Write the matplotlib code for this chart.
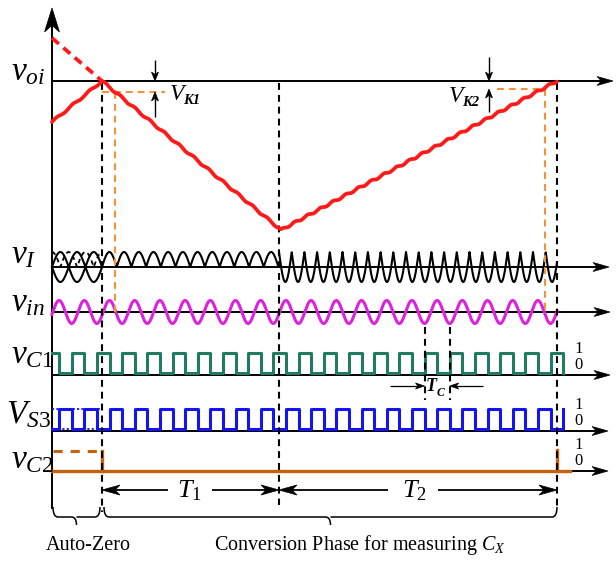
import numpy as np
import matplotlib
matplotlib.use("Agg")
import matplotlib.pyplot as plt
from matplotlib.patches import Polygon, PathPatch
from matplotlib.path import Path

plt.rcParams['font.family'] = ['Liberation Serif', 'DejaVu Serif']
plt.rcParams['mathtext.fontset'] = 'custom'
plt.rcParams['mathtext.rm'] = 'Liberation Serif'
plt.rcParams['mathtext.it'] = 'Liberation Serif:italic'
plt.rcParams['mathtext.bf'] = 'Liberation Serif:bold'

# ---------------- data ----------------
# time marks on the common time axis
t_start = 52
t_autozero_end = 102
t_T1_end = 279
t_T2_end = 557
t_axis_end = 610

# v_oi (integrator output): ramp breakpoints
voi_times = [52, 102, 281, 557]
voi_values = [-41, 0, -149, 0]
voi_dashed_times = [52, 102]
voi_dashed_values = [43, 0]
voi_ripple = 1.0
V_K1 = 11
V_K2 = 8
t_K1 = 115
t_K2 = 545

# v_I (rectified signal)
vI_amp = 15
vI_half_az = 16.7
vI_half_T1 = 14.7
vI_half_T2 = 12.7

# v_in and clocks
vin_amp = 11.5
clock_period = 25.2
clock_ref_edge = 550.5
clock_end = 563.1
Tc_edges = [424.5, 449.7]
logic_high = 22
logic_low = 2

# ---------------- layout ----------------
x_axis = 52
y_voi, y_vI, y_vin, y_vC1, y_VS3, y_vC2 = 81, 267, 312, 375, 431, 471

RED = '#ff1a1a'
ORANGE = '#f39237'
BROWN = '#c4620e'
MAGENTA = '#dd22dd'
GREEN = '#217a62'
BLUE = '#1414f0'

fig = plt.figure(figsize=(6.16, 5.62), dpi=100)
ax = fig.add_axes([0, 0, 1, 1])
ax.set_xlim(0, 616)
ax.set_ylim(562, 0)
ax.axis('off')


def head(xt, yt, dx, dy, length, half, color='k', z=6):
    # stealth-like arrowhead; (dx, dy) unit direction of the arrow
    px, py = -dy, dx
    bx, by = xt - dx * length, yt - dy * length
    nx, ny = xt - dx * length * 0.72, yt - dy * length * 0.72
    pts = [(xt, yt), (bx + px * half, by + py * half), (nx, ny),
           (bx - px * half, by - py * half)]
    ax.add_patch(Polygon(pts, closed=True, facecolor=color, edgecolor=color,
                         lw=0.5, zorder=z))


def arrow(x0, y0, x1, y1, length, half, lw=1.3, color='k', z=6):
    d = np.hypot(x1 - x0, y1 - y0)
    dx, dy = (x1 - x0) / d, (y1 - y0) / d
    ax.plot([x0, x1 - dx * length * 0.7], [y0, y1 - dy * length * 0.7],
            color=color, lw=lw, zorder=z, solid_capstyle='butt')
    head(x1, y1, dx, dy, length, half, color, z)


def brace(x0, x1, ytop, ymid, ytip, r=5):
    xc = (x0 + x1) / 2
    verts = [(x0, ytop), (x0, ymid), (x0 + r, ymid), (xc - r, ymid),
             (xc, ymid), (xc, ytip),
             (xc, ymid), (xc + r, ymid), (x1 - r, ymid), (x1, ymid), (x1, ytop)]
    codes = [Path.MOVETO, Path.CURVE3, Path.CURVE3, Path.LINETO,
             Path.CURVE3, Path.CURVE3,
             Path.MOVETO, Path.CURVE3, Path.LINETO, Path.CURVE3, Path.CURVE3]
    ax.add_patch(PathPatch(Path(verts, codes), facecolor='none',
                           edgecolor='k', lw=1.1, zorder=5))


def square(t0, t1, base, invert=False):
    def state(t):
        s = ((t - clock_ref_edge) / clock_period) % 1.0 < 0.5
        return (not s) if invert else s

    def lev(s):
        return base - (logic_high if s else logic_low)

    k0 = int(np.floor((t0 - clock_ref_edge) / clock_period)) - 1
    k1 = int(np.ceil((t1 - clock_ref_edge) / clock_period)) + 1
    edges = []
    for k in range(k0, k1 + 1):
        for f in (0.0, 0.5):
            e = clock_ref_edge + (k + f) * clock_period
            if t0 < e <= t1 + 0.2:
                edges.append(e)
    edges.sort()
    xs, ys = [t0], [lev(state(t0 + 1e-6))]
    for e in edges:
        xs += [e, e]
        ys += [lev(state(e - 1e-3)), lev(state(e + 1e-3))]
    if xs[-1] < t1:
        xs.append(t1)
        ys.append(ys[-1])
    return np.array(xs), np.array(ys)


# ---------------- axes ----------------
ax.plot([x_axis, x_axis], [508, 25], color='k', lw=1.4, zorder=2)
head(x_axis, 8, 0, -1, 24, 7.5)
for yb, xe in [(y_voi, 613), (y_vI, 609), (y_vin, 610), (y_vC1, 610),
               (y_VS3, 608), (y_vC2, 608)]:
    arrow(x_axis, yb, xe, yb, 16, 4.5, lw=1.4, z=2)

# ---------------- dashed guide lines ----------------
dash_k = dict(color='k', lw=1.5, ls=(0, (3.3, 2.4)), zorder=4)
ax.plot([t_autozero_end, t_autozero_end], [83, 512], **dash_k)
ax.plot([t_T1_end, t_T1_end], [83, 505], **dash_k)
ax.plot([t_T2_end, t_T2_end], [83, 510], **dash_k)
for e in Tc_edges:
    ax.plot([e, e], [327, 400], **dash_k)

dash_o = dict(color=ORANGE, lw=1.5, ls=(0, (3.3, 2.4)), zorder=4)
ax.plot([t_autozero_end, 165], [y_voi + V_K1, y_voi + V_K1], **dash_o)
ax.plot([t_K1, t_K1], [y_voi + V_K1, y_vin], **dash_o)
ax.plot([497, t_K2], [y_voi + V_K2, y_voi + V_K2], **dash_o)
ax.plot([t_K2, t_K2], [y_voi + V_K2, y_vin], **dash_o)

# ---------------- v_oi ----------------
t = np.linspace(t_start, t_T2_end, 3000)
ramp = np.interp(t, voi_times, voi_values)
half = np.where(t < t_autozero_end, vI_half_az,
                np.where(t < t_T1_end, vI_half_T1, vI_half_T2))
seg0 = np.where(t < t_autozero_end, t_start,
                np.where(t < t_T1_end, t_autozero_end, t_T1_end))
ripple = voi_ripple * np.sin(2 * np.pi * (t - seg0) / half)
voi = ramp + ripple
ax.plot(t, y_voi - voi, color=RED, lw=2.7, zorder=7, solid_capstyle='round')
ax.plot(voi_dashed_times, [y_voi - v for v in voi_dashed_values], color=RED,
        lw=2.7, ls=(0, (2.4, 1.6)), zorder=7)

# V_K arrows and labels
arrow(155, 60, 155, y_voi, 9, 3.5, lw=1.0)
arrow(155, 117, 155, y_voi + V_K1, 9, 3.5, lw=1.0)
arrow(489, 57, 489, y_voi, 9, 3.5, lw=1.0)
arrow(489, 112, 489, y_voi + V_K2, 9, 3.5, lw=1.0)
ax.text(170, 100, 'V', fontsize=17, style='italic', va='baseline', ha='left')
ax.text(183, 104, 'K1', fontsize=10.5, style='italic', weight='bold',
        va='baseline', ha='left')
ax.text(449, 102, 'V', fontsize=17, style='italic', va='baseline', ha='left')
ax.text(462, 106, 'K2', fontsize=10.5, style='italic', weight='bold',
        va='baseline', ha='left')

# ---------------- v_I ----------------
ta = np.linspace(t_start, t_autozero_end, 400)
ra = np.abs(np.sin(np.pi * (ta - t_start) / vI_half_az))
ax.plot(ta, y_vI - vI_amp * ra, color='k', lw=1.5, zorder=3)
ax.plot(ta, y_vI + vI_amp * ra, color='k', lw=1.5, zorder=3)
rd = np.abs(np.sin(np.pi * (ta - t_start - vI_half_az / 2) / vI_half_az))
ax.plot(ta, y_vI - vI_amp * rd, color='k', lw=1.3, ls=(0, (2.5, 2)), zorder=3)
t1 = np.linspace(t_autozero_end, t_T1_end, 1200)
ax.plot(t1, y_vI - vI_amp * np.abs(np.sin(np.pi * (t1 - t_autozero_end) / vI_half_T1)),
        color='k', lw=1.5, zorder=3)
t2 = np.linspace(t_T1_end, t_T2_end, 2400)
ax.plot(t2, y_vI - vI_amp * (1 - 2 * np.abs(np.sin(np.pi * (t2 - t_T1_end) / vI_half_T2))),
        color='k', lw=1.5, zorder=3)

# ---------------- v_in ----------------
tv = np.linspace(t_start, t_T2_end, 2000)
ax.plot(tv, y_vin + vin_amp * np.cos(2 * np.pi * (tv - clock_ref_edge) / clock_period),
        color=MAGENTA, lw=2.2, zorder=3)

# ---------------- v_C1 / V_S3 ----------------
xs, ys = square(t_start, clock_end, y_vC1)
ax.plot(xs, ys, color=GREEN, lw=2.2, zorder=3)
xs, ys = square(t_start, clock_end, y_VS3, invert=True)
xs = np.append(xs, clock_end)
ys = np.append(ys, y_VS3 - logic_high)
ax.plot(xs, ys, color=BLUE, lw=2.2, zorder=3)
xs, ys = square(t_start, t_autozero_end, y_VS3)
ax.plot(xs, ys, color=BLUE, lw=1.3, ls=(0, (1.2, 1.2)), zorder=3)

# T_C annotation
arrow(390, 386, Tc_edges[0], 386, 9, 3, lw=0.9)
arrow(483, 386, Tc_edges[1], 386, 9, 3, lw=0.9)
ax.text(425.5, 391, 'T', fontsize=13, style='italic', weight='bold',
        va='baseline', ha='left')
ax.text(436.5, 396, 'C', fontsize=8.5, style='italic', weight='bold',
        va='baseline', ha='left')

# ---------------- v_C2 ----------------
ax.plot([t_start + 1, t_autozero_end], [y_vC2 - 20, y_vC2 - 20], color=BROWN,
        lw=2.2, ls=(0, (3, 2.6)), zorder=3)
ax.plot([t_autozero_end, t_autozero_end], [y_vC2 - 20, y_vC2], color=BROWN,
        lw=2.4, zorder=3)
ax.plot([t_start, 570], [y_vC2, y_vC2], color=BROWN, lw=2.4, zorder=3)
ax.plot([t_T2_end, t_T2_end], [y_vC2 - 21, y_vC2], color=BROWN, lw=2.4, zorder=3)

# logic level marks
for yb in (y_vC1, y_VS3, y_vC2):
    ax.text(574, yb - 22, '1', fontsize=12, va='baseline', ha='left')
    ax.text(574, yb - 6, '0', fontsize=12, va='baseline', ha='left')

# ---------------- signal labels ----------------
lab = dict(fontsize=24, va='baseline', ha='left')
ax.text(11, 80, r'$v_{oi}$', **lab)
ax.text(11, 263, r'$v_{I}$', **lab)
ax.text(11, 311, r'$v_{in}$', **lab)
ax.text(11, 363, r'$v_{C1}$', **lab)
ax.text(6, 423, r'$V_{S3}$', **lab)
ax.text(11, 468, r'$v_{C2}$', **lab)

# ---------------- T1 / T2 ----------------
arrow(168, 490, t_autozero_end, 490, 18, 5)
arrow(212, 490, t_T1_end, 490, 18, 5)
arrow(388, 490, t_T1_end, 490, 18, 5)
arrow(438, 490, t_T2_end, 490, 18, 5)
ax.text(189, 497, r'$T_1$', fontsize=19, va='baseline', ha='center')
ax.text(414, 497, r'$T_2$', fontsize=19, va='baseline', ha='center')

# braces and phase labels
brace(53, 100, 507, 517, 525)
brace(104, 557, 507, 517, 525)
ax.text(88, 550, 'Auto-Zero', fontsize=14.5, va='baseline', ha='center')
ax.text(360, 550, r'Conversion Phase for measuring $C_X$', fontsize=14.5,
        va='baseline', ha='center')

fig.savefig('out.png', dpi=100)
